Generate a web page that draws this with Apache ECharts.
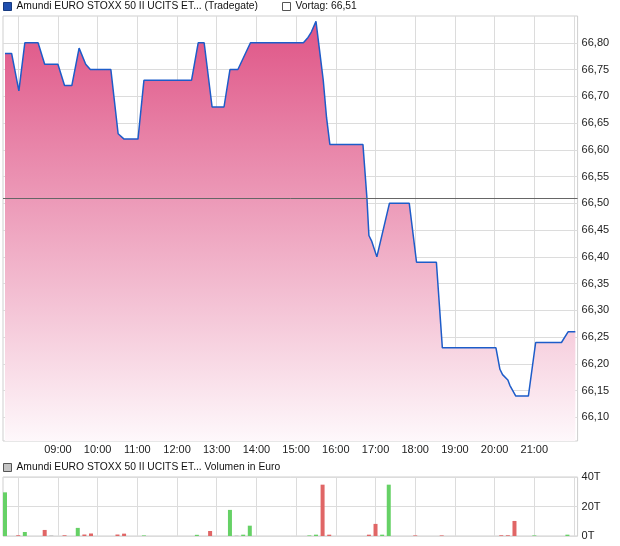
<!DOCTYPE html>
<html>
<head>
<meta charset="utf-8">
<script src="https://cdn.jsdelivr.net/npm/echarts@6/dist/echarts.min.js"></script>
<style>
html,body{margin:0;padding:0;background:#fff;}
#c{width:620px;height:546px;}
</style>
</head>
<body>
<div id="c"></div>
<script>
// ---- data ----
const seriesName = 'Amundi EURO STOXX 50 II UCITS ET... (Tradegate)';
const volumeName = 'Amundi EURO STOXX 50 II UCITS ET... Volumen in Euro';
const prevClose = 66.51;
const prevLabel = 'Vortag: 66,51';

const priceTimes = ['07:40','07:50','08:01','08:10','08:30','08:40','09:00','09:10','09:21','09:32','09:42','09:49',
  '10:20','10:31','10:40','11:01','11:10','12:22','12:32','12:41','12:53','13:11','13:20','13:32','13:51',
  '15:11','15:18','15:23','15:30','15:35','15:41','15:46','15:51','16:41','16:47','16:50','16:54','17:02',
  '17:21','17:51','18:02','18:32','18:41','20:02','20:08','20:12','20:20','20:23','20:32','20:51','21:02',
  '21:41','21:51','22:02'];
const priceValues = [66.78,66.78,66.71,66.80,66.80,66.76,66.76,66.72,66.72,66.79,66.76,66.75,
  66.75,66.63,66.62,66.62,66.73,66.73,66.80,66.80,66.68,66.68,66.75,66.75,66.80,
  66.80,66.81,66.82,66.84,66.79,66.73,66.66,66.61,66.61,66.51,66.44,66.43,66.40,
  66.50,66.50,66.39,66.39,66.23,66.23,66.19,66.18,66.17,66.16,66.14,66.14,66.24,
  66.24,66.26,66.26];

const volTimes = ['07:40','08:00','08:10','08:40','08:50','09:10','09:30','09:40','09:50','10:30','10:40','11:10',
  '12:30','12:50','13:20','13:30','13:40','13:50','15:20','15:30','15:40','15:50','16:50','17:00','17:10',
  '17:20','18:00','18:40','20:10','20:20','20:30','21:00','21:50'];
const volValues = [29.6,0.5,2.7,4.1,0.5,0.5,5.5,1.0,1.7,1.0,1.6,0.4,
  0.8,3.4,17.7,0.4,0.9,7.0,0.4,0.9,34.8,0.9,0.9,8.2,0.9,
  34.8,0.4,0.4,0.5,0.5,10.2,0.4,0.9];
const volDir = ['up','down','up','down','flat','down','up','down','down','down','down','up',
  'up','down','up','flat','up','up','up','up','down','down','down','down','up',
  'up','down','down','down','down','down','up','up'];

const hourTicks = ['08:00','09:00','10:00','11:00','12:00','13:00','14:00','15:00','16:00','17:00','18:00','19:00','20:00','21:00','22:00'];
const hourLabels = ['09:00','10:00','11:00','12:00','13:00','14:00','15:00','16:00','17:00','18:00','19:00','20:00','21:00'];
const priceTicks = [66.10,66.15,66.20,66.25,66.30,66.35,66.40,66.45,66.50,66.55,66.60,66.65,66.70,66.75,66.80];
const volTicks = [0,20,40];

// ---- helpers ----
const toMin = s => { const p = s.split(':'); return (+p[0]) * 60 + (+p[1]); };
const fmtMin = v => { const h = Math.floor(v / 60), m = Math.round(v % 60); return (h < 10 ? '0' : '') + h + ':' + (m < 10 ? '0' : '') + m; };
const dirColor = { up: '#66d166', down: '#e06666', flat: '#c4c4c4' };

const X_MIN = toMin('07:37'), X_MAX = 1325.4;
const FONT = '"Liberation Sans", Arial, sans-serif';
const txt = { fontFamily: FONT, fontSize: 11, color: '#222' };
const legTxt = { fontFamily: FONT, fontSize: 10.3, color: '#111', lineHeight: 13 };

const priceData = priceTimes.map((t, i) => [toMin(t), priceValues[i]]);
const volData = volTimes.map((t, i) => ({ value: [toMin(t), volValues[i]], itemStyle: { color: dirColor[volDir[i]] } }));

const chart = echarts.init(document.getElementById('c'), null, { renderer: 'canvas' });
chart.setOption({
  animation: false,
  backgroundColor: '#fff',
  legend: [
    { left: 3, top: 0, padding: 0, itemWidth: 8, itemHeight: 8, icon: 'rect', selectedMode: false,
      textStyle: legTxt,
      data: [{ name: seriesName, itemStyle: { color: '#1f4fae', borderColor: '#173a80', borderWidth: 1 } }] },
    { left: 282, top: 0, padding: 0, itemWidth: 8, itemHeight: 8, icon: 'rect', selectedMode: false,
      textStyle: legTxt,
      data: [{ name: prevLabel, itemStyle: { color: '#fff', borderColor: '#555', borderWidth: 1 } }] },
    { left: 3, top: 461, padding: 0, itemWidth: 8, itemHeight: 8, icon: 'rect', selectedMode: false,
      textStyle: legTxt,
      data: [{ name: volumeName, itemStyle: { color: '#c4c4c4', borderColor: '#555', borderWidth: 1 } }] }
  ],
  grid: [
    { left: 3, top: 16, width: 574.6, height: 425, show: true, borderColor: '#cfcfcf', borderWidth: 1, containLabel: false },
    { left: 3, top: 477, width: 574.6, height: 59, show: true, borderColor: '#cfcfcf', borderWidth: 1, containLabel: false }
  ],
  xAxis: [
    { type: 'value', gridIndex: 0, min: X_MIN, max: X_MAX,
      axisLine: { show: false },
      axisTick: { show: false, customValues: hourTicks.map(toMin) },
      axisLabel: Object.assign({}, txt, { show: true, margin: 3, customValues: hourLabels.map(toMin), formatter: fmtMin }),
      splitLine: { show: true, lineStyle: { color: '#dcdcdc', width: 1 } } },
    { type: 'value', gridIndex: 1, min: X_MIN, max: X_MAX,
      axisLine: { show: false },
      axisTick: { show: false, customValues: hourTicks.map(toMin) },
      axisLabel: { show: false },
      splitLine: { show: true, lineStyle: { color: '#dcdcdc', width: 1 } } }
  ],
  yAxis: [
    { type: 'value', gridIndex: 0, position: 'right', min: 66.056, max: 66.85,
      axisLine: { show: false },
      axisTick: { show: false, customValues: priceTicks },
      axisLabel: Object.assign({}, txt, { margin: 4, customValues: priceTicks, formatter: v => v.toFixed(2).replace('.', ',') }),
      splitLine: { show: true, lineStyle: { color: '#dcdcdc', width: 1 } } },
    { type: 'value', gridIndex: 1, position: 'right', min: 0, max: 40, interval: 20,
      axisLine: { show: false },
      axisTick: { show: false },
      axisLabel: Object.assign({}, txt, { margin: 4, formatter: v => v + 'T' }),
      splitLine: { show: true, lineStyle: { color: '#dcdcdc', width: 1 } } }
  ],
  series: [
    { name: seriesName, type: 'line', xAxisIndex: 0, yAxisIndex: 0, data: priceData,
      symbol: 'none', smooth: false, clip: true,
      lineStyle: { color: '#1d5cc9', width: 1.5 },
      itemStyle: { color: '#1f4fae' },
      areaStyle: { opacity: 1, color: new echarts.graphic.LinearGradient(0, 0, 0, 1, [
        { offset: 0, color: '#df5486' }, { offset: 1, color: '#fef8fb' }]) },
      markLine: { silent: true, symbol: ['none', 'none'], label: { show: false },
        lineStyle: { color: '#666', width: 1, type: 'solid' },
        data: [{ yAxis: prevClose }] } },
    { name: prevLabel, type: 'line', xAxisIndex: 0, yAxisIndex: 0, data: [], symbol: 'none',
      lineStyle: { color: '#555' }, itemStyle: { color: '#fff' } },
    { name: volumeName, type: 'bar', xAxisIndex: 1, yAxisIndex: 1, data: volData, barWidth: 4,
      itemStyle: { color: '#c4c4c4' } }
  ]
});
</script>
</body>
</html>
